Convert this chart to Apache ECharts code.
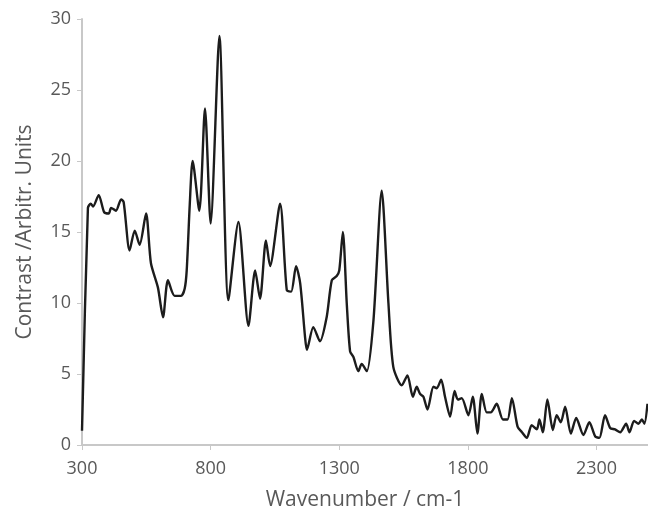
<!DOCTYPE html>
<html>
<head>
<meta charset="utf-8">
<script src="https://cdn.jsdelivr.net/npm/echarts@6/dist/echarts.min.js"></script>
<style>html,body{margin:0;padding:0;background:#fff}#c{width:648px;height:512px}</style>
</head>
<body>
<div id="c"></div>
<script>
const wavenumbers = [300,323,334,343,365,386,404,413,432,452,462,485,505,524,549,568,595,615,634,660,685,699,707,719,730,756,778,800,834,869,908,947,973,992,1015,1031,1070,1096,1113,1132,1148,1167,1174,1199,1225,1251,1271,1290,1300,1314,1329,1342,1355,1374,1387,1407,1433,1465,1491,1510,1543,1565,1586,1601,1614,1627,1643,1666,1679,1696,1711,1731,1748,1761,1776,1802,1819,1837,1854,1873,1889,1912,1936,1954,1971,1993,2010,2029,2048,2068,2078,2091,2109,2130,2145,2161,2178,2200,2221,2249,2272,2295,2311,2333,2353,2372,2392,2415,2428,2446,2463,2476,2486,2498];
const contrast = [1.0,16.7,17.0,16.8,17.6,16.4,16.3,16.7,16.5,17.3,17.1,13.7,15.1,14.1,16.3,12.8,11.1,9.0,11.6,10.5,10.5,11.0,12.3,17.0,20.0,16.5,23.7,15.6,28.8,10.2,15.7,8.4,12.3,10.3,14.4,12.6,17.0,10.9,10.8,12.6,11.4,7.6,6.7,8.3,7.3,9.0,11.6,11.9,12.3,15.0,10.0,6.6,6.2,5.2,5.7,5.2,8.8,17.9,10.0,5.5,4.2,4.9,3.4,4.1,3.6,3.4,2.5,4.1,4.0,4.6,3.4,2.0,3.8,3.2,3.3,2.1,3.4,0.8,3.6,2.3,2.3,2.9,1.8,1.8,3.3,1.3,0.9,0.5,1.4,1.1,1.8,0.9,3.2,1.05,2.1,1.6,2.7,0.8,1.9,0.7,1.6,0.6,0.5,2.1,1.2,1.1,0.9,1.5,0.9,1.7,1.5,1.8,1.5,2.9];
const xTicks = [300,800,1300,1800,2300];
const yTicks = [0,5,10,15,20,25,30];

const data = wavenumbers.map((w,i)=>[w, contrast[i]]);
const chart = echarts.init(document.getElementById('c'), null, {renderer:'canvas'});
const font = 'Open Sans';
chart.setOption({
  animation:false,
  backgroundColor:'#ffffff',
  grid:{left:82, right:0, top:19, bottom:67, containLabel:false, outerBoundsMode:'none'},
  xAxis:{
    type:'value', min:300, max:2500,
    name:'Wavenumber / cm-1', nameLocation:'middle', nameGap:45,
    nameTextStyle:{fontFamily:font, fontSize:21, color:'#595959'},
    axisLine:{show:true, onZero:false, lineStyle:{color:'#c8c8c8', width:2}},
    axisTick:{show:true, length:5, customValues:xTicks, lineStyle:{color:'#c8c8c8'}},
    axisLabel:{customValues:xTicks, formatter:v=>String(v), fontFamily:font, fontSize:18, color:'#595959', margin:15},
    splitLine:{show:false}
  },
  yAxis:{
    type:'value', min:0, max:30, interval:5,
    name:'Contrast /Arbitr. Units', nameLocation:'middle', nameGap:46,
    nameTextStyle:{fontFamily:font, fontSize:21, color:'#595959'},
    axisLine:{show:true, lineStyle:{color:'#c8c8c8', width:2}},
    axisTick:{show:true, length:5, customValues:yTicks, lineStyle:{color:'#c8c8c8'}},
    axisLabel:{customValues:yTicks, formatter:v=>String(v), fontFamily:font, fontSize:18, color:'#595959', margin:11},
    splitLine:{show:false}
  },
  series:[{
    type:'line', data:data, showSymbol:false, smooth:0.25,
    lineStyle:{color:'#1c1c1c', width:2.4}
  }]
});
</script>
</body>
</html>
